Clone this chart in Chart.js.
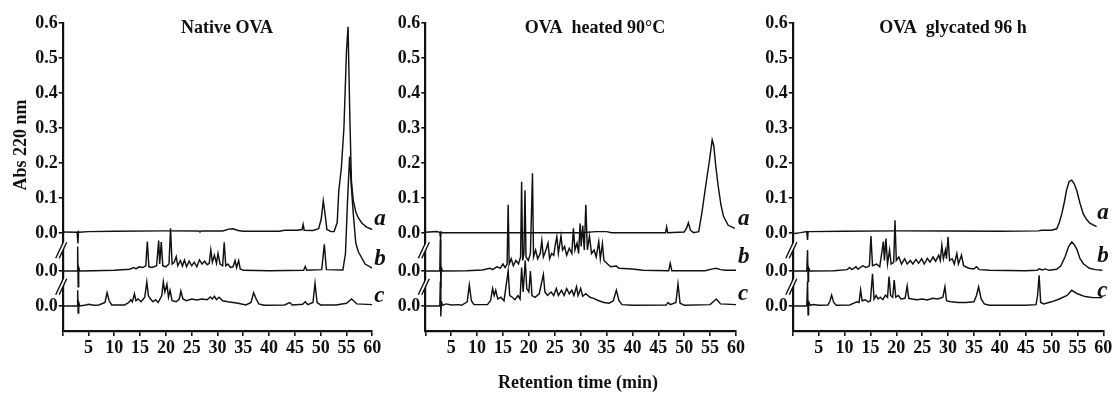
<!DOCTYPE html>
<html>
<head>
<meta charset="utf-8">
<script src="https://cdn.jsdelivr.net/npm/chart.js@4.4.1/dist/chart.umd.min.js"></script>
<style>
  html, body { margin: 0; padding: 0; background: #ffffff; }
  #wrap { position: relative; width: 1115px; height: 393px; overflow: hidden; }
  #wrap canvas { position: absolute; left: 0; top: 0; }
</style>
</head>
<body>
<div id="wrap">
  <canvas id="p1" width="1115" height="393"></canvas>
  <canvas id="p2" width="1115" height="393"></canvas>
  <canvas id="p3" width="1115" height="393"></canvas>
</div>
<script>
// ---------------- DATA (retention time [min], Abs 220 nm) ----------------
const xTicks = [0, 5, 10, 15, 20, 25, 30, 35, 40, 45, 50, 55, 60];
const yTicks = [0, 0.1, 0.2, 0.3, 0.4, 0.5, 0.6];
const traceNames = ['a', 'b', 'c'];
const panelTitles = ['Native OVA', 'OVA  heated 90°C', 'OVA  glycated 96 h'];
const xTitle = 'Retention time (min)';
const yTitle = 'Abs 220 nm';

// Native OVA
const nativeA = [[0,0.003],[2.8,0.002],[2.95,-0.03],[3.05,0.004],[3.2,0.002],[5,0.004],[10,0.005],[20,0.006],[26.4,0.006],[26.6,0.003],[26.8,0.006],[31,0.006],[32.2,0.011],[33,0.012],[34,0.007],[35,0.005],[42,0.005],[43,0.008],[45.5,0.008],[46.4,0.01],[46.6,0.024],[46.8,0.008],[48.5,0.007],[49.6,0.012],[50.1,0.04],[50.5,0.092],[50.8,0.06],[51.2,0.01],[52,0.004],[52.6,0.004],[53.2,0.03],[53.5,0.12],[54.0,0.185],[54.5,0.3],[55.0,0.52],[55.3,0.589],[55.65,0.33],[55.95,0.15],[56.3,0.094],[56.8,0.06],[57.3,0.043],[58.0,0.028],[58.9,0.017],[60,0.01]];
const nativeB = [[0,0],[2.8,0],[2.9,0.07],[3.0,-0.045],[3.1,0.01],[3.3,0],[6,0.001],[10,0.002],[13,0.005],[13.8,0.01],[14.2,0.006],[14.8,0.012],[15.5,0.01],[16.1,0.015],[16.4,0.084],[16.7,0.012],[17.3,0.01],[18.2,0.015],[18.6,0.087],[18.8,0.02],[19.1,0.083],[19.4,0.015],[20,0.012],[20.6,0.02],[20.9,0.122],[21.2,0.02],[21.6,0.025],[22.0,0.041],[22.3,0.015],[22.8,0.03],[23.2,0.014],[23.6,0.031],[24.0,0.012],[24.5,0.028],[25,0.015],[25.5,0.025],[26,0.012],[26.5,0.032],[27,0.02],[27.5,0.028],[28,0.018],[28.4,0.022],[28.7,0.06],[29.0,0.025],[29.4,0.045],[29.8,0.022],[30.1,0.05],[30.5,0.02],[31.0,0.015],[31.3,0.082],[31.6,0.015],[32,0.02],[32.5,0.01],[33,0.012],[33.4,0.03],[33.7,0.01],[34.1,0.03],[34.4,0.006],[35,0.002],[40,0.001],[46.7,0.002],[47,0.013],[47.3,0.002],[50.2,0.004],[50.7,0.076],[51.1,0.004],[54.3,0.003],[54.8,0.05],[55.2,0.2],[55.6,0.327],[55.9,0.25],[56.3,0.166],[56.8,0.08],[57.3,0.055],[58.6,0.02],[60,0.008]];
const nativeC = [[0,0],[2.8,0],[2.9,0.045],[3.0,-0.02],[3.1,0.01],[3.3,0],[4.5,0.003],[5,0.005],[6,0.002],[7,0.003],[8.2,0.01],[8.6,0.038],[9.0,0.015],[9.5,0.003],[12,0.003],[12.8,0.01],[13.2,0.018],[13.5,0.012],[13.9,0.035],[14.2,0.015],[14.6,0.02],[15.2,0.012],[15.9,0.025],[16.3,0.069],[16.6,0.03],[17,0.02],[17.5,0.012],[18,0.018],[18.5,0.01],[19.2,0.03],[19.5,0.069],[19.8,0.04],[20.2,0.062],[20.5,0.025],[20.8,0.045],[21.2,0.015],[22,0.012],[22.6,0.02],[22.9,0.043],[23.3,0.02],[24,0.015],[25,0.02],[26,0.017],[27,0.02],[28,0.018],[28.6,0.026],[29,0.02],[29.4,0.028],[29.8,0.018],[30.3,0.025],[31,0.015],[32,0.012],[34,0.008],[35.5,0.003],[36.5,0.01],[37,0.038],[37.5,0.02],[38,0.006],[39,0.002],[43,0.003],[44,0.01],[44.5,0.003],[46.5,0.005],[47,0.012],[47.5,0.004],[48.5,0.01],[48.9,0.065],[49.3,0.01],[50,0.003],[53,0.003],[55,0.008],[56,0.02],[57,0.006],[60,0.004]];

// OVA heated 90 °C
const heatedA = [[0,0.002],[2.2,0.004],[2.8,0.002],[2.95,-0.016],[3.05,0.003],[3.3,0.001],[10,0.001],[20,0.001],[30,0.001],[33,0.004],[35,0.004],[36,0.001],[46.4,0.001],[46.6,0.017],[46.8,0.001],[50,0.003],[50.5,0.015],[50.8,0.029],[51.2,0.008],[51.8,0.001],[52.8,0.004],[53.4,0.057],[54.3,0.15],[54.9,0.21],[55.4,0.266],[55.7,0.25],[56.1,0.19],[56.6,0.13],[57.1,0.08],[57.6,0.047],[58.5,0.022],[59.8,0.013]];
const heatedB = [[0,0],[2.8,0],[2.9,0.09],[3.0,-0.05],[3.1,0.01],[3.3,0],[8,0.001],[11,0.003],[12.5,0.008],[13,0.004],[13.8,0.012],[14.5,0.008],[15.0,0.02],[15.4,0.01],[15.8,0.02],[16.0,0.189],[16.2,0.02],[16.6,0.035],[17,0.015],[17.5,0.03],[18,0.02],[18.4,0.04],[18.6,0.255],[18.8,0.03],[19.05,0.05],[19.25,0.231],[19.45,0.04],[19.9,0.03],[20.3,0.05],[20.7,0.279],[20.9,0.04],[21.3,0.06],[21.7,0.035],[22.2,0.05],[22.5,0.087],[22.8,0.04],[23.3,0.06],[23.7,0.08],[24.0,0.035],[24.4,0.05],[24.8,0.045],[25.1,0.075],[25.4,0.098],[25.7,0.05],[26.2,0.1],[26.5,0.06],[26.9,0.07],[27.3,0.045],[27.8,0.065],[28.3,0.05],[28.6,0.122],[28.9,0.06],[29.3,0.08],[29.6,0.05],[29.9,0.136],[30.1,0.07],[30.4,0.13],[30.7,0.06],[31.0,0.189],[31.3,0.06],[31.7,0.1],[32.1,0.05],[32.6,0.06],[33.0,0.04],[33.5,0.084],[33.8,0.035],[34.2,0.078],[34.5,0.03],[35.2,0.02],[35.8,0.012],[36.9,0.014],[37.4,0.008],[40,0.006],[42,0.002],[47,0.001],[47.3,0.022],[47.6,0.001],[54,0.001],[55.5,0.006],[56.2,0.008],[57,0.004],[58,0.002],[60,0.002]];
const heatedC = [[0,0],[2.8,0],[2.9,0.07],[3.0,-0.03],[3.1,0.012],[3.4,0.002],[4,0.006],[5,0.003],[6.5,0.004],[7,0.002],[8.1,0.012],[8.5,0.06],[8.9,0.015],[9.4,0.004],[12,0.004],[12.6,0.015],[13.0,0.05],[13.3,0.03],[13.6,0.045],[14.0,0.02],[14.6,0.025],[15.2,0.015],[16.0,0.1],[16.3,0.03],[16.8,0.025],[17.3,0.018],[17.9,0.03],[18.3,0.02],[18.6,0.11],[18.9,0.04],[19.3,0.13],[19.6,0.05],[20.0,0.04],[20.3,0.1],[20.6,0.03],[21.2,0.025],[22.0,0.035],[22.8,0.09],[23.1,0.04],[23.6,0.03],[24.3,0.04],[24.8,0.03],[25.3,0.05],[25.7,0.03],[26.3,0.045],[26.8,0.03],[27.3,0.05],[27.8,0.035],[28.3,0.045],[28.7,0.03],[29.2,0.055],[29.5,0.03],[30.0,0.05],[30.4,0.028],[31,0.035],[31.8,0.025],[32.5,0.022],[33.5,0.015],[34.5,0.01],[35.5,0.008],[36.3,0.015],[36.9,0.045],[37.4,0.015],[38,0.004],[40,0.002],[46.5,0.003],[46.9,0.01],[47.3,0.004],[48.4,0.01],[48.8,0.063],[49.2,0.008],[50,0.002],[55,0.004],[56.2,0.02],[57,0.006],[60,0.004]];

// OVA glycated 96 h
const glycA = [[0,-0.002],[1.5,0.001],[2.7,0.004],[2.85,-0.02],[2.95,0.004],[3.2,0.004],[10,0.005],[20,0.006],[30,0.006],[40,0.005],[47.5,0.006],[48,0.008],[50,0.008],[51,0.012],[51.5,0.03],[52,0.056],[52.5,0.09],[52.9,0.123],[53.4,0.147],[53.9,0.151],[54.4,0.14],[54.9,0.12],[55.5,0.085],[56.1,0.056],[56.7,0.04],[57.4,0.028],[58.7,0.018]];
const glycB = [[0,0],[2.7,0],[2.85,0.06],[2.95,-0.03],[3.05,0.01],[3.3,0],[8,0.001],[10.5,0.004],[11,0.01],[11.4,0.004],[12.2,0.012],[12.6,0.005],[13.5,0.015],[14.2,0.01],[14.8,0.015],[15.1,0.1],[15.4,0.015],[16.2,0.02],[16.8,0.012],[17.5,0.084],[17.7,0.03],[18.0,0.093],[18.3,0.02],[18.7,0.06],[19.0,0.02],[19.5,0.025],[19.75,0.145],[20,0.03],[20.5,0.04],[21,0.02],[21.6,0.035],[22.1,0.02],[22.7,0.03],[23.2,0.02],[23.8,0.033],[24.3,0.022],[24.9,0.035],[25.4,0.02],[26,0.036],[26.5,0.025],[27.1,0.04],[27.6,0.028],[28.2,0.045],[28.5,0.03],[28.8,0.074],[29.1,0.035],[29.5,0.06],[29.7,0.035],[30.0,0.098],[30.3,0.03],[30.8,0.035],[31.2,0.02],[31.7,0.05],[32.0,0.02],[32.6,0.045],[33,0.015],[34,0.008],[35,0.006],[35.5,0.012],[36,0.004],[38,0.002],[45,0.001],[47.2,0.002],[47.6,0.006],[48.2,0.003],[48.8,0.006],[49.5,0.002],[51.0,0.005],[51.8,0.015],[52.6,0.04],[53.3,0.07],[53.9,0.083],[54.4,0.075],[54.9,0.062],[55.5,0.035],[56.2,0.02],[57.3,0.008],[58.5,0.004],[59.8,0.002]];
const glycC = [[0,0],[2.7,0],[2.85,0.07],[2.95,-0.025],[3.05,0.012],[3.4,0.002],[4,0.004],[5,0.002],[6.8,0.003],[7.2,0.015],[7.5,0.031],[7.9,0.01],[8.4,0.002],[11,0.003],[11.8,0.008],[12.4,0.012],[12.8,0.01],[13.1,0.046],[13.4,0.015],[14,0.018],[14.6,0.012],[15.0,0.015],[15.4,0.092],[15.7,0.02],[16.1,0.03],[16.5,0.02],[16.9,0.025],[17.4,0.018],[17.9,0.031],[18.3,0.025],[18.6,0.084],[18.9,0.03],[19.3,0.025],[19.6,0.074],[19.9,0.025],[20.4,0.03],[20.9,0.02],[21.7,0.022],[22.1,0.057],[22.4,0.022],[23,0.02],[24,0.018],[25,0.02],[26,0.017],[27,0.022],[28,0.02],[29,0.025],[29.4,0.055],[29.7,0.015],[30.5,0.012],[32,0.01],[33.5,0.01],[35,0.012],[35.5,0.03],[35.9,0.055],[36.4,0.02],[37,0.006],[38,0.002],[45,0.002],[47.0,0.004],[47.3,0.03],[47.6,0.088],[47.9,0.01],[48.5,0.006],[50,0.012],[51.5,0.02],[53,0.03],[53.9,0.045],[55,0.035],[56.5,0.027],[58,0.024],[59.8,0.024]];

// ---------------- LAYOUT / STYLE ----------------
const TRACE_OFFSET = [0, -0.1086, -0.2086];   // vertical stacking of traces a, b, c
const Y_MIN = -0.28, Y_MAX = 0.6;
const FONT = "'Liberation Serif', 'Times New Roman', Times, serif";
const INK = '#111111';
const Y_AXIS_W = 50, X_AXIS_H = 30;

const panels = [
  { id: 'p1', series: [nativeA, nativeB, nativeC], left: 62.7, right: 372.3, titleX: 227, labelDx: 2,  labelDy: [-8, -6, -4], axisTitles: true },
  { id: 'p2', series: [heatedA, heatedB, heatedC], left: 425.3, right: 736.0, titleX: 595, labelDx: 2,  labelDy: [-8, -8, -6], axisTitles: false },
  { id: 'p3', series: [glycA, glycB, glycC],       left: 792.8, right: 1103.3, titleX: 953, labelDx: -6, labelDy: [-14, -9, -9], axisTitles: false }
];

const decoPlugin = {
  id: 'deco',
  afterDraw(chart, args, opts) {
    const ctx = chart.ctx;
    const ys = chart.scales.y, xs = chart.scales.x;
    const ax = xs.left;
    ctx.save();
    // axis break marks
    [ (TRACE_OFFSET[0] + TRACE_OFFSET[1]) / 2 + 0.005, (TRACE_OFFSET[1] + TRACE_OFFSET[2]) / 2 + 0.005 ].forEach(v => {
      const cy = ys.getPixelForValue(v);
      ctx.fillStyle = '#ffffff';
      ctx.beginPath();
      ctx.moveTo(ax - 6, cy + 7); ctx.lineTo(ax + 1, cy - 8);
      ctx.lineTo(ax + 4, cy - 8); ctx.lineTo(ax - 3, cy + 7);
      ctx.closePath(); ctx.fill();
      ctx.strokeStyle = INK; ctx.lineWidth = 1.4;
      ctx.beginPath();
      ctx.moveTo(ax - 7, cy + 8); ctx.lineTo(ax + 0.5, cy - 8);
      ctx.moveTo(ax - 3.5, cy + 8); ctx.lineTo(ax + 4, cy - 8);
      ctx.stroke();
    });
    // panel title
    ctx.fillStyle = INK;
    ctx.font = `bold 18px ${FONT}`;
    ctx.textAlign = 'center';
    ctx.textBaseline = 'alphabetic';
    ctx.fillText(opts.title, opts.titleX, 33);
    // trace labels a, b, c
    ctx.font = `italic bold 23px ${FONT}`;
    ctx.textAlign = 'left';
    traceNames.forEach((n, i) => {
      const y = ys.getPixelForValue(TRACE_OFFSET[i]) + opts.labelDy[i];
      ctx.fillText(n, xs.right + opts.labelDx, y);
    });
    // shared axis titles
    if (opts.axisTitles) {
      ctx.font = `bold 18px ${FONT}`;
      ctx.textAlign = 'center';
      ctx.textBaseline = 'middle';
      ctx.fillText(xTitle, 578, 383);
      ctx.save();
      ctx.translate(21, 145);
      ctx.rotate(-Math.PI / 2);
      ctx.fillText(yTitle, 0, 0);
      ctx.restore();
    }
    ctx.restore();
  }
};

panels.forEach((p, pi) => {
  const datasets = p.series.map((s, i) => ({
    label: traceNames[i],
    data: s.map(([t, v]) => ({ x: t, y: v + TRACE_OFFSET[i] })),
    borderColor: INK,
    borderWidth: 1.45,
    pointRadius: 0,
    tension: 0,
    fill: false
  }));
  new Chart(document.getElementById(p.id), {
    type: 'line',
    data: { datasets },
    plugins: [decoPlugin],
    options: {
      responsive: false,
      animation: false,
      devicePixelRatio: 1,
      layout: { padding: { left: p.left - Y_AXIS_W, right: 1115 - p.right, top: 23, bottom: 393 - 331 - X_AXIS_H } },
      plugins: {
        legend: { display: false },
        tooltip: { enabled: false },
        deco: { title: panelTitles[pi], titleX: p.titleX, labelDx: p.labelDx, labelDy: p.labelDy, axisTitles: p.axisTitles }
      },
      scales: {
        x: {
          type: 'linear', min: 0, max: 60,
          afterBuildTicks: s => { s.ticks = xTicks.map(v => ({ value: v })); },
          afterFit: s => { s.height = X_AXIS_H; },
          ticks: { autoSkip: false, maxRotation: 0, padding: 2, color: INK,
                   font: { family: FONT, size: 18, weight: 'bold' },
                   callback: v => (v === 0 ? '' : String(v)) },
          grid: { drawOnChartArea: false, drawTicks: true, tickLength: 5, color: INK, lineWidth: 1.6 },
          border: { display: true, color: INK, width: 2.2 }
        },
        y: {
          type: 'linear', min: Y_MIN, max: Y_MAX,
          afterBuildTicks: s => { s.ticks = [TRACE_OFFSET[2], TRACE_OFFSET[1]].concat(yTicks).map(v => ({ value: v })); },
          afterFit: s => { s.width = Y_AXIS_W; },
          ticks: { autoSkip: false, padding: 1, color: INK,
                   font: { family: FONT, size: 18, weight: 'bold' },
                   callback: v => (v < -0.001 ? '0.0' : Math.abs(v).toFixed(1)) },
          grid: { drawOnChartArea: false, drawTicks: true, tickLength: 4, color: INK, lineWidth: 1.6 },
          border: { display: true, color: INK, width: 2.2 }
        }
      }
    }
  });
});
</script>
</body>
</html>
